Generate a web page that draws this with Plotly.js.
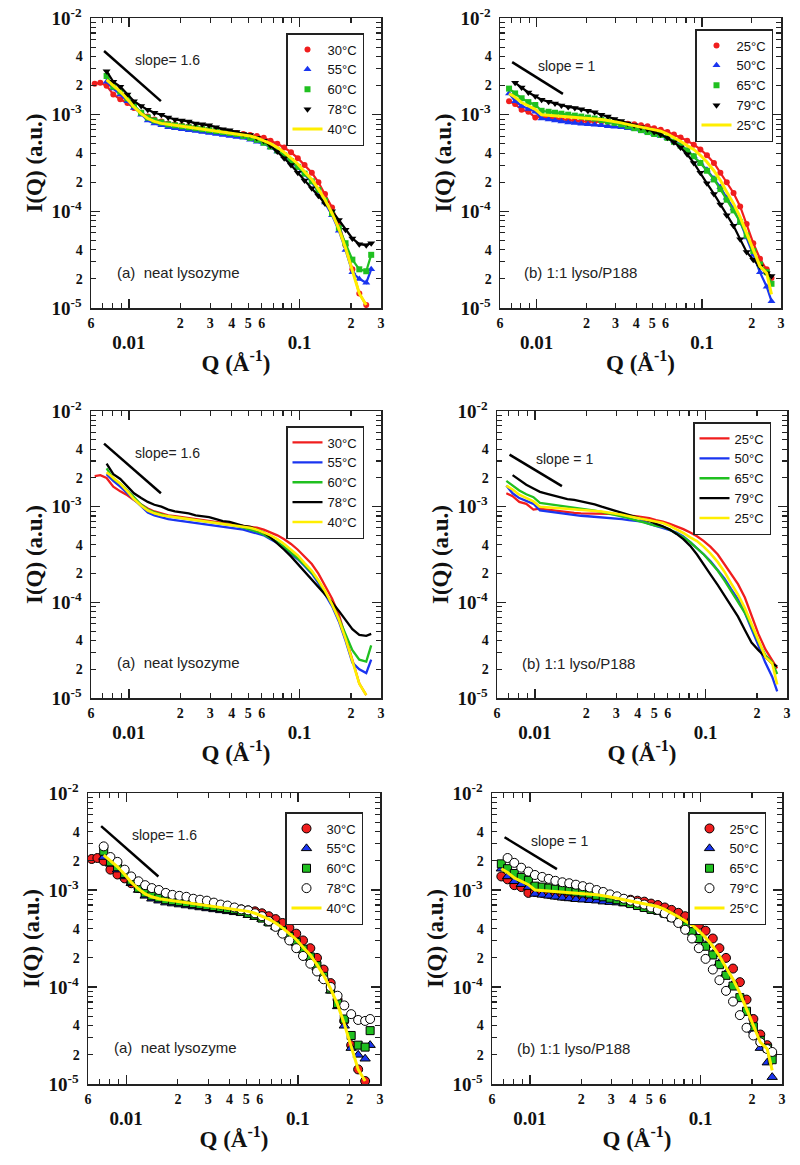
<!DOCTYPE html>
<html><head><meta charset="utf-8">
<script src="https://cdn.plot.ly/plotly-3.0.1.min.js"></script>
<style>html,body{margin:0;padding:0;background:#fff}#chart{width:800px;height:1165px}</style>
</head><body><div id="chart"></div>
<script>
// ---- data ----
const Q = [0.0063, 0.0068, 0.0074, 0.0081, 0.0089, 0.0098, 0.0107, 0.0118, 0.0129, 0.0141, 0.0155, 0.0170, 0.0186, 0.0204, 0.0224, 0.0246, 0.0269, 0.0295, 0.0324, 0.0355, 0.0389, 0.0427, 0.0468, 0.0513, 0.0562, 0.0617, 0.0676, 0.0741, 0.0813, 0.0891, 0.0977, 0.107, 0.118, 0.129, 0.141, 0.155, 0.170, 0.186, 0.204, 0.224, 0.246, 0.263];

// (a) neat lysozyme, log10 I(Q)
const neat_30C = [-2.68, -2.67, -2.70, -2.79, -2.84, -2.88, -2.93, -2.98, -3.02, -3.05, -3.07, -3.09, -3.10, -3.11, -3.12, -3.13, -3.14, -3.15, -3.16, -3.17, -3.18, -3.19, -3.20, -3.21, -3.22, -3.24, -3.27, -3.30, -3.34, -3.39, -3.45, -3.52, -3.60, -3.70, -3.82, -3.96, -4.13, -4.35, -4.60, -4.85, -4.97, null];
const neat_55C = [null, null, -2.66, -2.73, -2.79, -2.86, -2.93, -3.00, -3.06, -3.09, -3.11, -3.13, -3.14, -3.15, -3.16, -3.17, -3.18, -3.19, -3.20, -3.21, -3.22, -3.23, -3.24, -3.26, -3.28, -3.30, -3.34, -3.38, -3.43, -3.49, -3.55, -3.62, -3.70, -3.80, -3.91, -4.04, -4.20, -4.40, -4.63, -4.70, -4.74, -4.60];
const neat_60C = [null, null, -2.60, -2.71, -2.76, -2.83, -2.90, -2.98, -3.03, -3.06, -3.08, -3.10, -3.11, -3.12, -3.13, -3.14, -3.15, -3.16, -3.17, -3.18, -3.19, -3.20, -3.22, -3.24, -3.26, -3.29, -3.33, -3.37, -3.42, -3.48, -3.54, -3.61, -3.69, -3.78, -3.89, -4.02, -4.17, -4.33, -4.50, -4.60, -4.62, -4.45];
const neat_78C = [null, null, -2.55, -2.66, -2.71, -2.79, -2.86, -2.91, -2.95, -2.98, -3.00, -3.03, -3.05, -3.06, -3.07, -3.09, -3.10, -3.11, -3.13, -3.15, -3.16, -3.18, -3.20, -3.21, -3.24, -3.27, -3.32, -3.38, -3.45, -3.52, -3.60, -3.68, -3.76, -3.84, -3.92, -4.00, -4.09, -4.19, -4.28, -4.34, -4.35, -4.33];
const neat_40C = [null, null, -2.64, -2.70, -2.76, -2.84, -2.92, -2.99, -3.04, -3.07, -3.09, -3.10, -3.11, -3.12, -3.13, -3.14, -3.15, -3.16, -3.17, -3.18, -3.19, -3.20, -3.21, -3.22, -3.24, -3.27, -3.30, -3.34, -3.39, -3.45, -3.51, -3.59, -3.67, -3.77, -3.88, -4.02, -4.18, -4.38, -4.62, -4.85, -4.97, null];

// (b) 1:1 lyso/P188, log10 I(Q)
const lyso_25C = [null, -2.86, -2.89, -2.95, -2.97, -3.03, -3.02, -3.03, -3.04, -3.05, -3.06, -3.065, -3.07, -3.07, -3.07, -3.07, -3.075, -3.08, -3.09, -3.095, -3.10, -3.11, -3.12, -3.14, -3.155, -3.18, -3.205, -3.235, -3.27, -3.31, -3.36, -3.42, -3.50, -3.60, -3.70, -3.81, -3.95, -4.13, -4.33, -4.49, -4.60, -4.69];
const lyso_50C = [null, -2.78, -2.86, -2.91, -2.94, -2.97, -3.04, -3.05, -3.06, -3.07, -3.08, -3.087, -3.095, -3.10, -3.105, -3.11, -3.12, -3.125, -3.13, -3.14, -3.145, -3.155, -3.18, -3.20, -3.22, -3.245, -3.27, -3.31, -3.37, -3.43, -3.50, -3.57, -3.66, -3.75, -3.86, -3.97, -4.11, -4.27, -4.45, -4.63, -4.78, -4.93];
const lyso_65C = [null, -2.73, -2.78, -2.83, -2.87, -2.90, -2.96, -2.97, -2.98, -2.99, -3.00, -3.01, -3.02, -3.03, -3.04, -3.055, -3.07, -3.085, -3.10, -3.12, -3.14, -3.16, -3.18, -3.20, -3.21, -3.24, -3.28, -3.32, -3.37, -3.43, -3.50, -3.58, -3.67, -3.77, -3.88, -3.99, -4.11, -4.25, -4.41, -4.55, -4.63, -4.75];
const lyso_79C = [null, null, -2.67, -2.72, -2.77, -2.81, -2.845, -2.865, -2.885, -2.905, -2.92, -2.93, -2.945, -2.96, -2.975, -3.00, -3.02, -3.045, -3.065, -3.09, -3.11, -3.13, -3.15, -3.18, -3.205, -3.24, -3.285, -3.34, -3.41, -3.50, -3.60, -3.71, -3.82, -3.93, -4.04, -4.15, -4.29, -4.42, -4.50, -4.57, -4.64, -4.67];
const lyso_25C_after = [null, -2.78, -2.82, -2.875, -2.91, -2.945, -3.00, -3.005, -3.015, -3.02, -3.025, -3.03, -3.035, -3.04, -3.045, -3.05, -3.06, -3.07, -3.085, -3.10, -3.115, -3.13, -3.14, -3.155, -3.17, -3.20, -3.235, -3.275, -3.32, -3.36, -3.42, -3.49, -3.58, -3.68, -3.80, -3.92, -4.06, -4.23, -4.40, -4.57, -4.64, -4.86];

const neatNames = ['30°C', '55°C', '60°C', '78°C', '40°C'];
const lysoNames = ['25°C', '50°C', '65°C', '79°C', '25°C'];

// guide lines
const slope16Q = [0.00715, 0.0154];
const slope16I = [0.00456, 0.00138];
const slope1Q = [0.0071, 0.0144];
const slope1I = [0.0035, 0.00164];

// ticks: digit labels on the main axes, decade labels (longer ticks) on overlay axes
const xTickVals = [0.006, 0.02, 0.03, 0.04, 0.05, 0.06, 0.2, 0.3];
const xTickText = ['6', '2', '3', '4', '5', '6', '2', '3'];
const xMinorVals = [0.007, 0.008, 0.009, 0.07, 0.08, 0.09];
const xDecades = [0.01, 0.1];
const xDecadeText = ['0.01', '0.1'];
const yTickVals = [2e-5, 4e-5, 2e-4, 4e-4, 2e-3, 4e-3];
const yTickText = ['2', '4', '2', '4', '2', '4'];
const yMinorVals = [3e-5, 5e-5, 6e-5, 7e-5, 8e-5, 9e-5, 3e-4, 5e-4, 6e-4, 7e-4, 8e-4, 9e-4, 3e-3, 5e-3, 6e-3, 7e-3, 8e-3, 9e-3];
const yDecades = [1e-5, 1e-4, 1e-3, 1e-2];
const yDecadeText = ['10<sup>-5</sup>', '10<sup>-4</sup>', '10<sup>-3</sup>', '10<sup>-2</sup>'];

// ---- styling / layout ----
const W = 800, H = 1165;
const XR = [-2.2222, -0.5226];
const YR = [-5.0004, -1.9996];
const COLORS = ['#f01e1e', '#1a35f0', '#20c020', '#000000', '#ffee00'];
const SYM_TOP = ['circle', 'triangle-up', 'square', 'triangle-down'];
const SIZE_TOP = [6, 7, 6, 7];
const SYM_BOT = ['circle', 'triangle-up', 'square', 'circle'];
const SIZE_BOT = [9, 9, 8, 9];
const SERIF = 'Liberation Serif, Times New Roman, serif';
const SANS = 'Liberation Sans, Arial, sans-serif';

const rowsY = [[18, 308], [411, 698], [793, 1084]];
const colsX = [[[91, 381], [500, 781]], [[91, 381], [497, 787]], [[88, 380], [492, 782]]];
const legPos = [[[286, 33], [695, 29]], [[286, 426], [693, 422]], [[285, 812], [688, 812]]];

const toI = a => a.map(v => v === null ? null : Math.pow(10, v));

const layout = {
  width: W, height: H, margin: {l: 0, r: 0, t: 0, b: 0},
  paper_bgcolor: '#fff', plot_bgcolor: '#fff', hovermode: false, showlegend: true,
  font: {family: SANS, color: '#111'}, annotations: []
};
const data = [];

const common = {showline: true, linecolor: '#222', linewidth: 1.5, mirror: 'allticks', ticks: 'inside',
  tickcolor: '#222', tickmode: 'array', showgrid: false, zeroline: false};

function mainX(domain, anchor) {
  return Object.assign({}, common, {type: 'log', domain, anchor, range: XR, ticklen: 5, tickwidth: 1.2,
    tickvals: xTickVals, ticktext: xTickText, ticklabelstandoff: 2,
    tickfont: {family: SERIF, size: 14, color: '#111', weight: 'bold'},
    minor: {tickmode: 'array', tickvals: xMinorVals, ticks: 'inside', ticklen: 5, tickwidth: 1.1, tickcolor: '#222'},
    title: {text: 'Q (Å<sup>-1</sup>)', font: {family: SERIF, size: 23, color: '#111', weight: 'bold'}, standoff: 24}});
}
function mainY(domain, anchor) {
  return Object.assign({}, common, {type: 'log', domain, anchor, range: YR, ticklen: 5, tickwidth: 1.2,
    tickvals: yTickVals, ticktext: yTickText, ticklabelstandoff: 4,
    tickfont: {family: SERIF, size: 14, color: '#111', weight: 'bold'},
    minor: {tickmode: 'array', tickvals: yMinorVals, ticks: 'inside', ticklen: 5, tickwidth: 1.1, tickcolor: '#222'},
    title: {text: 'I(Q) (a.u.)', font: {family: SERIF, size: 23, color: '#111', weight: 'bold'}, standoff: 26}});
}
function overlayX(over, anchor) {
  return Object.assign({}, common, {type: 'log', overlaying: over, anchor, side: 'bottom', range: XR,
    tickvals: xDecades, ticktext: xDecadeText, ticklen: 9, tickwidth: 1.3, ticklabelstandoff: 17,
    tickfont: {family: SERIF, size: 19, color: '#111', weight: 'bold'}});
}
function overlayY(over, anchor) {
  return Object.assign({}, common, {type: 'log', overlaying: over, anchor, side: 'left', range: YR,
    tickvals: yDecades, ticktext: yDecadeText, ticklen: 9, tickwidth: 1.3, ticklabelstandoff: 4,
    tickfont: {family: SERIF, size: 19, color: '#111', weight: 'bold'}});
}

for (let r = 0; r < 3; r++) {
  for (let c = 0; c < 2; c++) {
    const k = r * 2 + c + 1;
    const s = k === 1 ? '' : String(k);
    const xd = colsX[r][c], yd = rowsY[r];
    layout['xaxis' + s] = mainX([xd[0] / W, xd[1] / W], 'y' + s);
    layout['yaxis' + s] = mainY([1 - yd[1] / H, 1 - yd[0] / H], 'x' + s);
    layout['xaxis' + (k + 6)] = overlayX('x' + s, 'y' + s);
    layout['yaxis' + (k + 6)] = overlayY('y' + s, 'x' + s);
    // empty placeholder traces so the overlay axes are drawn
    data.push({type: 'scatter', mode: 'markers', x: [], y: [], xaxis: 'x' + (k + 6), yaxis: 'y' + s, showlegend: false, hoverinfo: 'skip'});
    data.push({type: 'scatter', mode: 'markers', x: [], y: [], xaxis: 'x' + s, yaxis: 'y' + (k + 6), showlegend: false, hoverinfo: 'skip'});

    const legId = k === 1 ? 'legend' : 'legend' + k;
    const lp = legPos[r][c];
    layout[legId] = {x: lp[0] / W, y: 1 - lp[1] / H, xref: 'paper', yref: 'paper', xanchor: 'left', yanchor: 'top',
      bgcolor: '#fff', bordercolor: '#222', borderwidth: 1.5, font: {family: SANS, size: 13, color: '#111'},
      tracegroupgap: 0, itemwidth: 30, traceorder: 'normal'};

    const ax = {xaxis: 'x' + s, yaxis: 'y' + s};
    // guide slope line
    data.push(Object.assign({type: 'scatter', mode: 'lines', x: c === 0 ? slope16Q : slope1Q, y: c === 0 ? slope16I : slope1I,
      line: {color: '#000', width: 2.5}, showlegend: false, hoverinfo: 'skip'}, ax));

    const sets = c === 0 ? [neat_30C, neat_55C, neat_60C, neat_78C, neat_40C]
                         : [lyso_25C, lyso_50C, lyso_65C, lyso_79C, lyso_25C_after];
    const names = c === 0 ? neatNames : lysoNames;
    sets.forEach((arr, i) => {
      const color = COLORS[i];
      const base = Object.assign({type: 'scatter', x: Q, y: toI(arr), name: names[i], legend: legId,
        hoverinfo: 'skip', connectgaps: false}, ax);
      if (i === 4) {
        data.push(Object.assign({}, base, {mode: 'lines', line: {color, width: r === 1 ? 2.6 : 3}}));
      } else if (r === 1) {
        data.push(Object.assign({}, base, {mode: 'lines', line: {color, width: 2.3}}));
      } else if (r === 0) {
        data.push(Object.assign({}, base, {mode: 'lines', line: {color, width: 2.2}, showlegend: false}));
        data.push(Object.assign({}, base, {mode: 'markers',
          marker: {symbol: SYM_TOP[i], size: SIZE_TOP[i], color, line: {width: 0}}}));
      } else {
        data.push(Object.assign({}, base, {mode: 'markers',
          marker: {symbol: SYM_BOT[i], size: SIZE_BOT[i], color: i === 3 ? '#ffffff' : color, line: {color: '#000', width: 1}}}));
      }
    });

    // text labels inside the panel (positions in log10 axis units)
    const xr = 'x' + s, yr = 'y' + s;
    layout.annotations.push({xref: xr, yref: yr, x: c === 0 ? -1.976 : -2.004, y: c === 0 ? -2.434 : -2.497,
      xanchor: 'left', yanchor: 'middle', showarrow: false, text: c === 0 ? 'slope= 1.6' : 'slope = 1',
      font: {family: SANS, size: 14, color: '#222'}});
    layout.annotations.push({xref: xr, yref: yr, x: c === 0 ? -2.081 : -2.089, y: c === 0 ? -4.628 : -4.638,
      xanchor: 'left', yanchor: 'middle', showarrow: false,
      text: c === 0 ? '(a)\u00a0 neat lysozyme' : '(b) 1:1 lyso/P188',
      font: {family: SANS, size: 15, color: '#222'}});
  }
}

Plotly.newPlot('chart', data, layout, {staticPlot: true, displayModeBar: false});
</script>
</body></html>
